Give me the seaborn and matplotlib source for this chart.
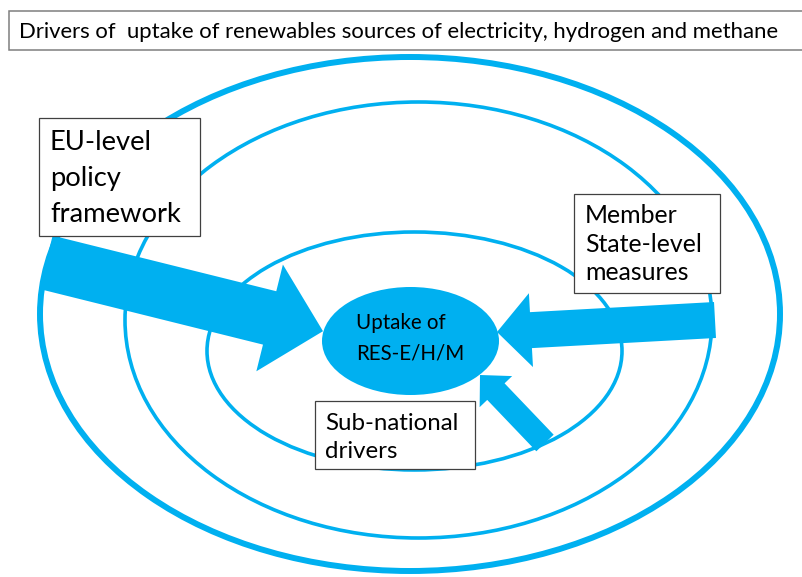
import matplotlib
matplotlib.use("Agg")
import matplotlib.pyplot as plt
from matplotlib.patches import Ellipse, Rectangle, FancyArrow
import seaborn as sns

# ---- content ----
title_text = "Drivers of  uptake of renewables sources of electricity, hydrogen and methane"
centre_lines = ["Uptake of", "RES-E/H/M"]
eu_lines = ["EU-level", "policy", "framework"]
ms_lines = ["Member", "State-level", "measures"]
sub_lines = ["Sub-national", "drivers"]
ring_names = ["EU", "Member State", "Sub-national"]

sns.set_theme(style="white")
plt.rcParams["font.family"] = ["Lato", "DejaVu Sans"]

BLUE = "#00B0F0"
W, H = 803, 577
fig = plt.figure(figsize=(W / 100, H / 100), dpi=100)
ax = fig.add_axes([0, 0, 1, 1])
ax.set_xlim(0, W)
ax.set_ylim(H, 0)
ax.set_aspect("equal")
ax.axis("off")

# rings (outer -> inner)
ring_geom = [((410, 314), 740, 514, 4.3),
             ((418.5, 320), 587, 436, 2.6),
             ((414.5, 351), 415, 238, 2.6)]
for name, (c, w, h, lw) in zip(ring_names, ring_geom):
    ax.add_patch(Ellipse(c, w, h, fill=False, ec=BLUE, lw=lw, zorder=1))

# arrows
ax.add_patch(FancyArrow(46, 262.3, 277, 68.9, width=55, head_width=110,
                        head_length=55, length_includes_head=True,
                        color=BLUE, lw=0, zorder=2))
ax.add_patch(FancyArrow(715, 320, -218, 12, width=36, head_width=74,
                        head_length=34, length_includes_head=True,
                        color=BLUE, lw=0, zorder=2))
ax.add_patch(FancyArrow(545, 443, -65, -68, width=24, head_width=45,
                        head_length=23, length_includes_head=True,
                        color=BLUE, lw=0, zorder=2))

# central filled ellipse
ax.add_patch(Ellipse((410.5, 341), 177, 108, fc=BLUE, ec="none", zorder=3))

# boxes
ax.add_patch(Rectangle((9, 11), 820, 39, fc="white", ec="#7f7f7f", lw=1.1, zorder=4))
ax.add_patch(Rectangle((39, 118), 161, 118, fc="white", ec="#404040", lw=0.9, zorder=4))
ax.add_patch(Rectangle((574, 194), 146, 99, fc="white", ec="#404040", lw=0.9, zorder=4))
ax.add_patch(Rectangle((315, 401), 160, 68, fc="white", ec="#404040", lw=0.9, zorder=4))

fig.canvas.draw()
renderer = fig.canvas.get_renderer()


def block(lines, x, baselines, ref, target):
    ts = [ax.text(x, y, s, ha="left", va="baseline", fontsize=14,
                  color="black", zorder=5) for s, y in zip(lines, baselines)]
    wref = ts[ref].get_window_extent(renderer).width
    size = 14 * target / wref
    for t in ts:
        t.set_fontsize(size)
    return ts


block([title_text], 19, [38], 0, 764)
block(eu_lines, 50, [150, 186, 222], 2, 132)
block(ms_lines, 585, [223, 252, 280], 1, 117)
block(sub_lines, 325, [430, 458], 0, 134)
block(centre_lines, 356, [329, 359], 1, 109)

fig.savefig("out.png", dpi=100)
